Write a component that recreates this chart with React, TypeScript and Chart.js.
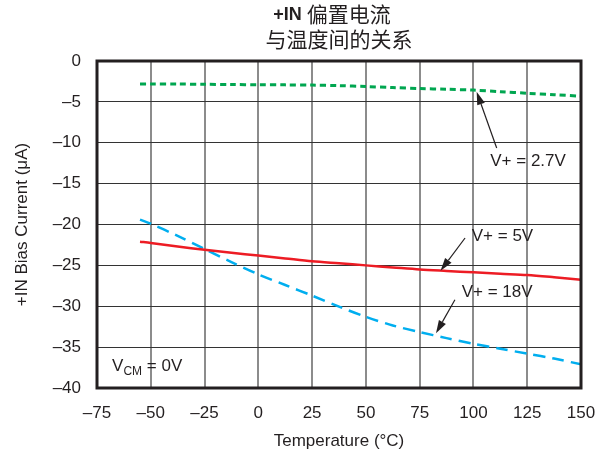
import React, { useEffect, useRef } from "react";
import { Chart, registerables } from "chart.js";

Chart.register(...registerables);

// ---- data ----
const temps = [-55, -50, -37.5, -25, -12.5, 0, 12.5, 25, 37.5, 50, 62.5, 75, 87.5, 100, 112.5, 125, 137.5, 150];
const bias27V = [-2.8, -2.8, -2.82, -2.85, -2.88, -2.9, -2.92, -2.95, -3.02, -3.12, -3.25, -3.37, -3.46, -3.56, -3.75, -3.95, -4.12, -4.3];
const bias5V = [-22.1, -22.25, -22.7, -23.1, -23.45, -23.8, -24.15, -24.5, -24.75, -25.0, -25.25, -25.5, -25.68, -25.85, -26.02, -26.18, -26.45, -26.75];
const bias18V = [-19.4, -19.9, -21.4, -23.0, -24.6, -26.1, -27.4, -28.7, -30.05, -31.3, -32.35, -33.15, -33.9, -34.6, -35.2, -35.8, -36.4, -37.1];

const xMin = -75;
const xMax = 150;
const xStep = 25;
const yMin = -40;
const yMax = 0;
const yStep = 5;

const titleBold = "+IN";
const titleRest = "偏置电流";
const titleLine2 = "与温度间的关系";
const xTitle = "Temperature (°C)";
const yTitle = "+IN Bias Current (μA)";

// annotations in data coordinates
const labelNames = ["V+ = 2.7V", "V+ = 5V", "V+ = 18V"];
const labelX = [125.4, 113.5, 111.0];
const labelY = [-12.3, -21.5, -28.35];
const arrowTailX = [110.8, 96.1, 91.4];
const arrowTailY = [-10.64, -21.65, -29.2];
const arrowHeadX = [101.5, 84.7, 82.6];
const arrowHeadY = [-3.76, -25.65, -33.3];
const vcmX = -68;
const vcmY = -37.3;

const TEXT = "#231f20";
const LATIN = "'Liberation Sans', Arial, sans-serif";
const CJK = "'Noto Sans CJK SC', sans-serif";

const fmt = (v: number) => (v < 0 ? "\u2013" + Math.abs(v) : String(v));

const overlay = {
  id: "overlay",
  afterDatasetsDraw(chart: any) {
    const { ctx, chartArea } = chart;
    ctx.save();
    ctx.strokeStyle = TEXT;
    ctx.lineWidth = 3;
    ctx.strokeRect(chartArea.left, chartArea.top, chartArea.right - chartArea.left, chartArea.bottom - chartArea.top);
    ctx.restore();
  },
  afterDraw(chart: any) {
    const { ctx } = chart;
    const xs = chart.scales.x;
    const ys = chart.scales.y;
    ctx.save();
    ctx.fillStyle = TEXT;
    ctx.textBaseline = "middle";

    // title
    ctx.textAlign = "left";
    ctx.font = `bold 18px ${LATIN}`;
    const wb = ctx.measureText(titleBold + " ").width;
    ctx.font = `21px ${CJK}`;
    const wr = ctx.measureText(titleRest).width;
    const start1 = 332 - (wb + wr) / 2;
    ctx.font = `bold 18px ${LATIN}`;
    ctx.fillText(titleBold, start1, 15);
    ctx.font = `21px ${CJK}`;
    ctx.fillText(titleRest, start1 + wb, 14);
    ctx.textAlign = "center";
    ctx.fillText(titleLine2, 339, 39);

    // labels & arrows
    ctx.font = `17px ${LATIN}`;
    for (let i = 0; i < labelNames.length; i++) {
      ctx.textAlign = "center";
      ctx.fillText(labelNames[i], xs.getPixelForValue(labelX[i]), ys.getPixelForValue(labelY[i]));
      const tx = xs.getPixelForValue(arrowTailX[i]);
      const ty = ys.getPixelForValue(arrowTailY[i]);
      const hx = xs.getPixelForValue(arrowHeadX[i]);
      const hy = ys.getPixelForValue(arrowHeadY[i]);
      const ang = Math.atan2(hy - ty, hx - tx);
      const hl = 13;
      const hw = 4;
      const bx = hx - hl * Math.cos(ang);
      const by = hy - hl * Math.sin(ang);
      ctx.strokeStyle = TEXT;
      ctx.lineWidth = 1.2;
      ctx.beginPath();
      ctx.moveTo(tx, ty);
      ctx.lineTo(bx, by);
      ctx.stroke();
      ctx.beginPath();
      ctx.moveTo(hx, hy);
      ctx.lineTo(bx + hw * Math.sin(ang), by - hw * Math.cos(ang));
      ctx.lineTo(bx - hw * Math.sin(ang), by + hw * Math.cos(ang));
      ctx.closePath();
      ctx.fill();
    }

    // V_CM = 0V
    ctx.textAlign = "left";
    let px = xs.getPixelForValue(vcmX);
    const py = ys.getPixelForValue(vcmY);
    ctx.font = `17px ${LATIN}`;
    ctx.fillText("V", px, py);
    px += ctx.measureText("V").width;
    ctx.font = `12px ${LATIN}`;
    ctx.fillText("CM", px, py + 6);
    px += ctx.measureText("CM").width;
    ctx.font = `17px ${LATIN}`;
    ctx.fillText(" = 0V", px, py);
    ctx.restore();
  },
};

export default function App() {
  const ref = useRef<HTMLCanvasElement>(null);
  useEffect(() => {
    if (!ref.current) return;
    const mk = (arr: number[]) => temps.map((t, i) => ({ x: t, y: arr[i] }));
    const chart = new Chart(ref.current, {
      type: "line",
      data: {
        datasets: [
          {
            label: "V+ = 2.7V",
            data: mk(bias27V),
            borderColor: "#00a650",
            borderWidth: 3,
            borderDash: [6, 4],
            pointRadius: 0,
            tension: 0.3,
          },
          {
            label: "V+ = 5V",
            data: mk(bias5V),
            borderColor: "#ed1c24",
            borderWidth: 2.5,
            pointRadius: 0,
            tension: 0.3,
          },
          {
            label: "V+ = 18V",
            data: mk(bias18V),
            borderColor: "#00aeef",
            borderWidth: 2.5,
            borderDash: [12, 7],
            pointRadius: 0,
            tension: 0.3,
          },
        ],
      },
      options: {
        animation: false,
        responsive: false,
        layout: { padding: { top: 61, right: 24, left: 0, bottom: 0 } },
        plugins: { legend: { display: false }, tooltip: { enabled: false }, title: { display: false } },
        scales: {
          x: {
            type: "linear",
            min: xMin,
            max: xMax,
            afterFit: (s: any) => {
              s.height = 70;
              s.paddingLeft = 0;
              s.paddingRight = 0;
            },
            ticks: {
              stepSize: xStep,
              padding: 15,
              color: TEXT,
              font: { family: LATIN, size: 17 },
              callback: (v: any) => fmt(Number(v)),
              maxRotation: 0,
            },
            grid: { color: "#8c8c8c", lineWidth: 2, drawTicks: false },
            border: { display: false },
            title: {
              display: true,
              text: xTitle,
              color: TEXT,
              font: { family: LATIN, size: 17 },
              padding: { top: 0, bottom: 6 },
            },
          },
          y: {
            type: "linear",
            min: yMin,
            max: yMax,
            afterFit: (s: any) => {
              s.width = 97;
              s.paddingTop = 0;
              s.paddingBottom = 0;
            },
            ticks: {
              stepSize: yStep,
              padding: 16,
              color: TEXT,
              font: { family: LATIN, size: 17 },
              callback: (v: any) => fmt(Number(v)),
            },
            grid: { color: "#333333", lineWidth: 1, drawTicks: false },
            border: { display: false },
            title: {
              display: true,
              text: yTitle,
              color: TEXT,
              font: { family: LATIN, size: 17 },
              padding: { top: 12, bottom: 0 },
            },
          },
        },
      },
      plugins: [overlay],
    } as any);
    return () => chart.destroy();
  }, []);
  return (
    <div style={{ position: "absolute", left: 0, top: 0, width: 605, height: 458, background: "#fff" }}>
      <canvas ref={ref} width={605} height={458} style={{ display: "block" }} />
    </div>
  );
}
